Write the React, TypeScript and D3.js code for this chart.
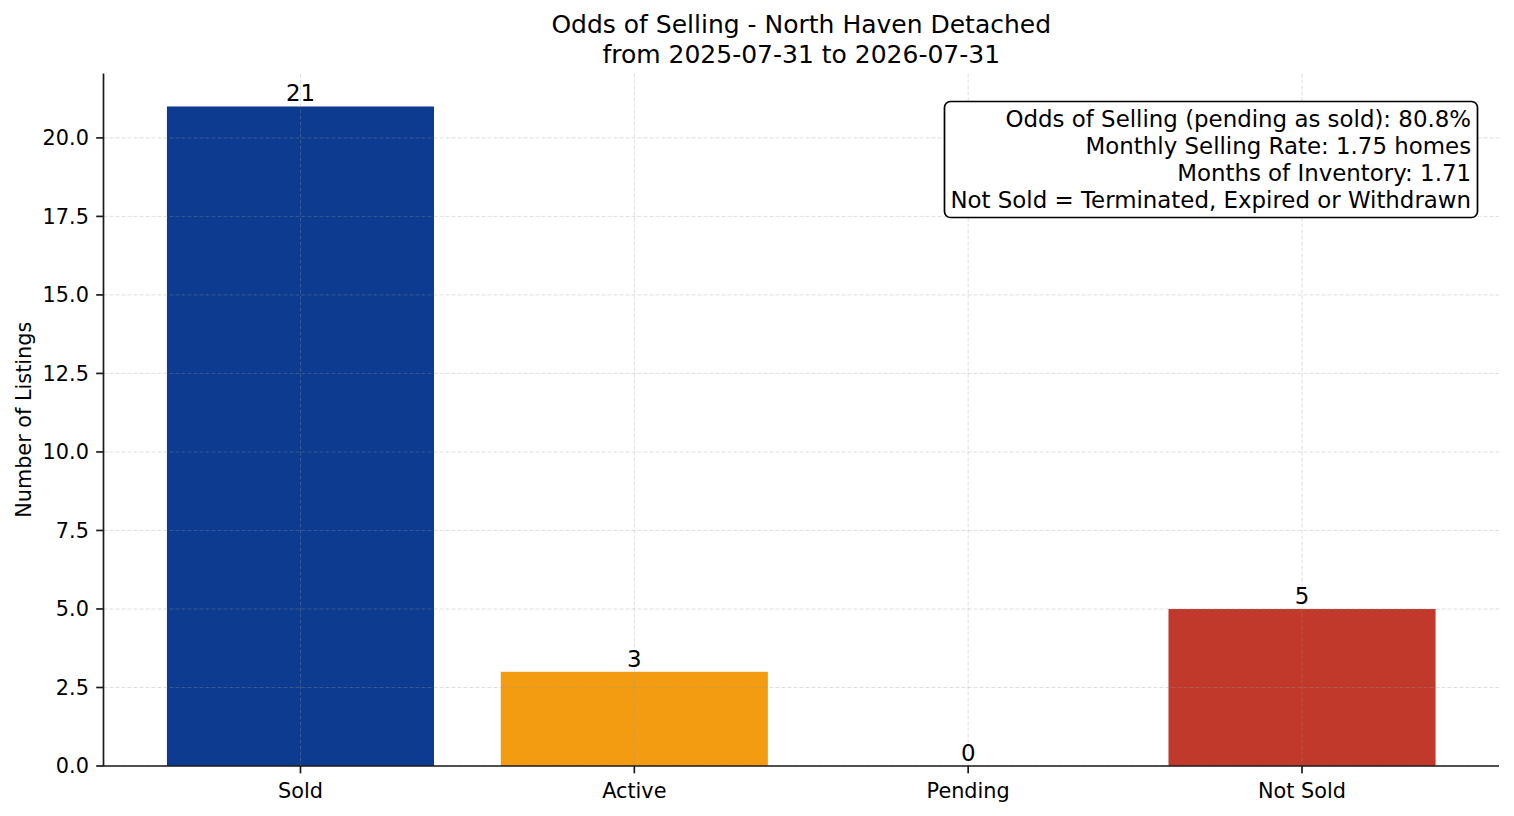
import React from "react";
import * as d3 from "d3";

const categories = ["Sold", "Active", "Pending", "Not Sold"];
const counts = [21, 3, 0, 5];
const barColors = ["#0C3B8F", "#F39C12", "#7F8C8D", "#C0392B"];
const yTicks = [0, 2.5, 5, 7.5, 10, 12.5, 15, 17.5, 20];
const titleLines = ["Odds of Selling - North Haven Detached", "from 2025-07-31 to 2026-07-31"];
const infoLines = [
  "Odds of Selling (pending as sold): 80.8%",
  "Monthly Selling Rate: 1.75 homes",
  "Months of Inventory: 1.71",
  "Not Sold = Terminated, Expired or Withdrawn",
];

const W = 1514;
const H = 816;
const FONT = "DejaVu Sans, sans-serif";
const left = 103.5;
const right = 1499;
const top = 73.5;
const bottom = 766;

export default function App() {
  const n = categories.length;
  const x = d3.scaleLinear().domain([-0.59, n - 1 + 0.59]).range([left, right]);
  const ymax = d3.max(counts)! * 1.05;
  const y = d3.scaleLinear().domain([0, ymax]).range([bottom, top]);
  const barW = x(0.8) - x(0);
  const tickLen = 7.3;
  const axisColor = "#1a1a1a";
  const gridStyle = { stroke: "#999", strokeOpacity: 0.4, strokeWidth: 0.8, strokeDasharray: "4 2" };

  const boxRight = x.range()[0] + (x.range()[1] - x.range()[0]) * 0.98;
  const lineH = 26.8;
  const firstBase = 127.3;

  return (
    <div style={{ position: "fixed", left: 0, top: 0 }}>
      <svg width={W} height={H} style={{ display: "block", background: "#fff" }} fontFamily={FONT}>
        {/* title */}
        {titleLines.map((t, i) => (
          <text key={t} x={(left + right) / 2} y={33 + i * 29.5} textAnchor="middle" fontSize={25} fill="#000">
            {t}
          </text>
        ))}
        {/* bars */}
        {counts.map((v, i) => (
          <rect
            key={categories[i]}
            x={x(i) - barW / 2}
            y={y(v)}
            width={barW}
            height={bottom - y(v)}
            fill={barColors[i]}
          />
        ))}
        {/* grid */}
        {yTicks.map((t) => (
          <line key={"gy" + t} x1={left} x2={right} y1={y(t)} y2={y(t)} {...gridStyle} />
        ))}
        {categories.map((c, i) => (
          <line key={"gx" + c} x1={x(i)} x2={x(i)} y1={top} y2={bottom} {...gridStyle} />
        ))}
        {/* value labels */}
        {counts.map((v, i) => (
          <text key={"v" + i} x={x(i)} y={y(v) - 5} textAnchor="middle" fontSize={22.9} fill="#000">
            {v}
          </text>
        ))}
        {/* spines */}
        <line x1={left} x2={left} y1={top} y2={bottom} stroke={axisColor} strokeWidth={1.7} />
        <line x1={left - 0.85} x2={right} y1={bottom} y2={bottom} stroke={axisColor} strokeWidth={1.7} />
        {/* y ticks */}
        {yTicks.map((t) => (
          <g key={"yt" + t}>
            <line x1={left - tickLen} x2={left} y1={y(t)} y2={y(t)} stroke={axisColor} strokeWidth={1.7} />
            <text x={left - tickLen - 7.3} y={y(t)} dy="0.36em" textAnchor="end" fontSize={20.8} fill="#000">
              {d3.format(".1f")(t)}
            </text>
          </g>
        ))}
        {/* x ticks */}
        {categories.map((c, i) => (
          <g key={"xt" + c}>
            <line x1={x(i)} x2={x(i)} y1={bottom} y2={bottom + tickLen} stroke={axisColor} strokeWidth={1.7} />
            <text x={x(i)} y={798} textAnchor="middle" fontSize={20.8} fill="#000">
              {c}
            </text>
          </g>
        ))}
        {/* y label */}
        <text
          transform={`translate(31,${(top + bottom) / 2}) rotate(-90)`}
          textAnchor="middle"
          fontSize={20.8}
          fill="#000"
        >
          Number of Listings
        </text>
        {/* info box */}
        <rect x={944.5} y={101.5} width={533} height={116} rx={6} ry={6} fill="#fff" stroke="#000" strokeWidth={1.7} />
        {infoLines.map((t, i) => (
          <text key={t} x={boxRight} y={firstBase + i * lineH} textAnchor="end" fontSize={22.9} fill="#000">
            {t}
          </text>
        ))}
      </svg>
    </div>
  );
}
